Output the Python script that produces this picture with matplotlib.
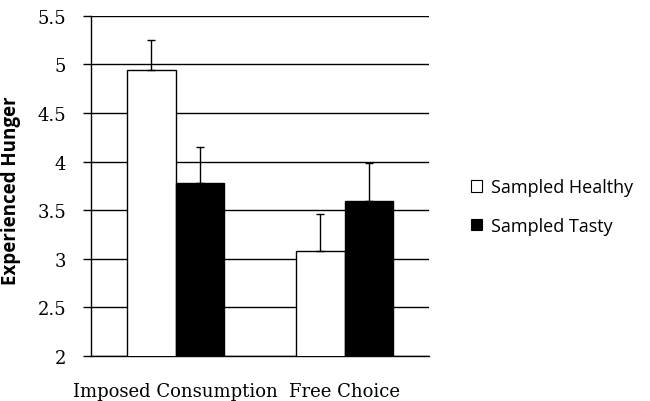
import numpy as np
import matplotlib.pyplot as plt
from matplotlib.patches import Patch

categories = ["Imposed Consumption", "Free Choice"]
series = ["Sampled Healthy", "Sampled Tasty"]
healthy = [4.94, 3.08]
tasty = [3.78, 3.59]
healthy_err = [0.31, 0.38]
tasty_err = [0.37, 0.40]
yticks = [2, 2.5, 3, 3.5, 4, 4.5, 5, 5.5]
ytick_labels = ["2", "2.5", "3", "3.5", "4", "4.5", "5", "5.5"]


def run():
    fig = plt.figure(figsize=(6.5, 4.02), dpi=100)
    ax = fig.add_axes([0.14, 0.112, 0.52, 0.846])

    x = np.arange(len(categories))
    w = 0.285
    ax.bar(x - w / 2, healthy, w, color="white", edgecolor="black",
           linewidth=1, zorder=3)
    ax.bar(x + w / 2, tasty, w, color="black", edgecolor="black",
           linewidth=1, zorder=3)
    ax.errorbar(x - w / 2, healthy, yerr=[np.zeros(2), healthy_err], fmt="none",
                ecolor="black", elinewidth=1, capsize=3, capthick=1, zorder=4)
    ax.errorbar(x + w / 2, tasty, yerr=[np.zeros(2), tasty_err], fmt="none",
                ecolor="black", elinewidth=1, capsize=3, capthick=1, zorder=4)

    ax.set_xlim(-0.5, 1.5)
    ax.set_ylim(2, 5.5)
    ax.set_yticks(yticks)
    ax.set_yticklabels(ytick_labels, family="DejaVu Serif", fontsize=13)
    ax.set_xticks(x)
    ax.set_xticklabels(categories, family="DejaVu Serif", fontsize=13)
    ax.tick_params(axis="x", length=0, pad=19)
    ax.tick_params(axis="y", length=6, width=1, color="black", pad=12)
    ax.yaxis.grid(True, color="black", linewidth=1, zorder=0)
    ax.set_axisbelow(True)
    for s in ["top", "right"]:
        ax.spines[s].set_visible(False)
    ax.spines["left"].set_linewidth(1)
    ax.spines["bottom"].set_linewidth(1)
    ax.set_ylabel("Experienced Hunger", family="Open Sans", fontweight="bold",
                  fontsize=13.5)
    ax.yaxis.set_label_coords(-0.207, 0.49)

    handles = [Patch(facecolor="white", edgecolor="black", linewidth=0.8),
               Patch(facecolor="black", edgecolor="black", linewidth=0.8)]
    fig.legend(handles, series, loc="upper left", bbox_to_anchor=(0.703, 0.59),
               frameon=False, prop={"family": "Open Sans", "size": 13},
               handlelength=0.6, handleheight=0.6, handletextpad=0.5,
               labelspacing=1.15, borderpad=0.3)

    fig.savefig("out.png", dpi=100)


if __name__ == "__main__":
    run()
